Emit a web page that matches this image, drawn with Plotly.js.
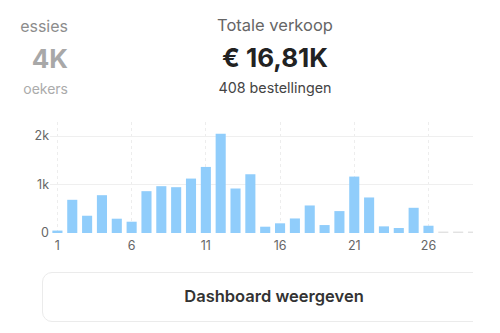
<!DOCTYPE html>
<html>
<head>
<meta charset="utf-8">
<script src="https://cdn.plot.ly/plotly-3.0.1.min.js"></script>
<style>
  html, body { margin: 0; padding: 0; background: #fff; }
  #wrap { position: relative; width: 500px; height: 333px; overflow: hidden; font-family: Inter, "Noto Sans", sans-serif; }
  #chart { position: absolute; left: 0; top: 0; width: 500px; height: 333px; }
  .t { position: absolute; white-space: nowrap; }
  #btnclip { position: absolute; left: 0; top: 0; width: 473px; height: 333px; overflow: hidden; pointer-events: none; }
  #btn { position: absolute; left: 42px; top: 272px; width: 462px; height: 48px; border: 1.5px solid #ebebeb; border-radius: 10px; box-sizing: content-box; }
  #btn span { position: absolute; left: 0; right: 0; top: 13px; text-align: center; font-size: 16.5px; font-weight: 600; color: #333; }
</style>
</head>
<body>
<div id="wrap">
  <div id="chart"></div>
  <div class="t" style="right:432px;top:16px;font-size:16px;color:#8c8c8c;">essies</div>
  <div class="t" style="right:432px;top:43px;font-size:26px;font-weight:700;color:#a8a8a8;">4K</div>
  <div class="t" style="right:432px;top:80px;font-size:14px;color:#ababab;">oekers</div>
  <div class="t" style="left:175px;width:200px;text-align:center;top:15px;font-size:16.5px;color:#666;">Totale verkoop</div>
  <div class="t" style="left:175px;width:200px;text-align:center;top:42px;font-size:26px;font-weight:700;color:#222;">€ 16,81K</div>
  <div class="t" style="left:175px;width:200px;text-align:center;top:79px;font-size:14.3px;color:#444;">408 bestellingen</div>
  <div id="btnclip"><div id="btn"><span>Dashboard weergeven</span></div></div>
</div>
<script>
// Daily sales (days of the month)
const days = [1,2,3,4,5,6,7,8,9,10,11,12,13,14,15,16,17,18,19,20,21,22,23,24,25,26];
const sales = [50,685,356,780,295,233,863,966,945,1123,1363,2048,918,1212,130,200,300,568,164,452,1164,733,137,103,520,150];
// Remaining days shown as grey placeholder stubs
const pendingDays = [27,28,29];
const pendingValues = [30,30,30];
const xTicks = [1,6,11,16,21,26];
const yTicks = [0,1000,2000];
const yTickText = ['0','1k','2k'];

const traces = [
  { type: 'bar', x: days, y: sales, marker: { color: '#90cdfb' }, width: 0.68, hoverinfo: 'skip' },
  { type: 'bar', x: pendingDays, y: pendingValues, marker: { color: '#e2e2e2' }, width: 0.68, hoverinfo: 'skip' }
];

const layout = {
  width: 500, height: 333,
  margin: { l: 50, r: 27, t: 122, b: 100 },
  paper_bgcolor: 'rgba(0,0,0,0)', plot_bgcolor: 'rgba(0,0,0,0)',
  showlegend: false,
  barmode: 'overlay',
  font: { family: 'Inter, "Noto Sans", sans-serif', size: 12, color: '#666' },
  xaxis: {
    range: [0.5, 29], tickvals: xTicks, ticktext: xTicks.map(String),
    showgrid: true, gridcolor: '#ededed', griddash: 'dot', gridwidth: 1,
    zeroline: false, showline: false, ticks: '', fixedrange: true,
    ticklabelstandoff: 3,
    tickfont: { size: 12.5, color: '#666' }
  },
  yaxis: {
    range: [0, 2290], tickvals: yTicks, ticktext: yTickText,
    showgrid: true, gridcolor: '#efefef', gridwidth: 1,
    zeroline: false, showline: false, ticks: '', fixedrange: true,
    tickfont: { size: 12.5, color: '#666' }
  }
};

Plotly.newPlot('chart', traces, layout, { staticPlot: true, displayModeBar: false });
</script>
</body>
</html>
